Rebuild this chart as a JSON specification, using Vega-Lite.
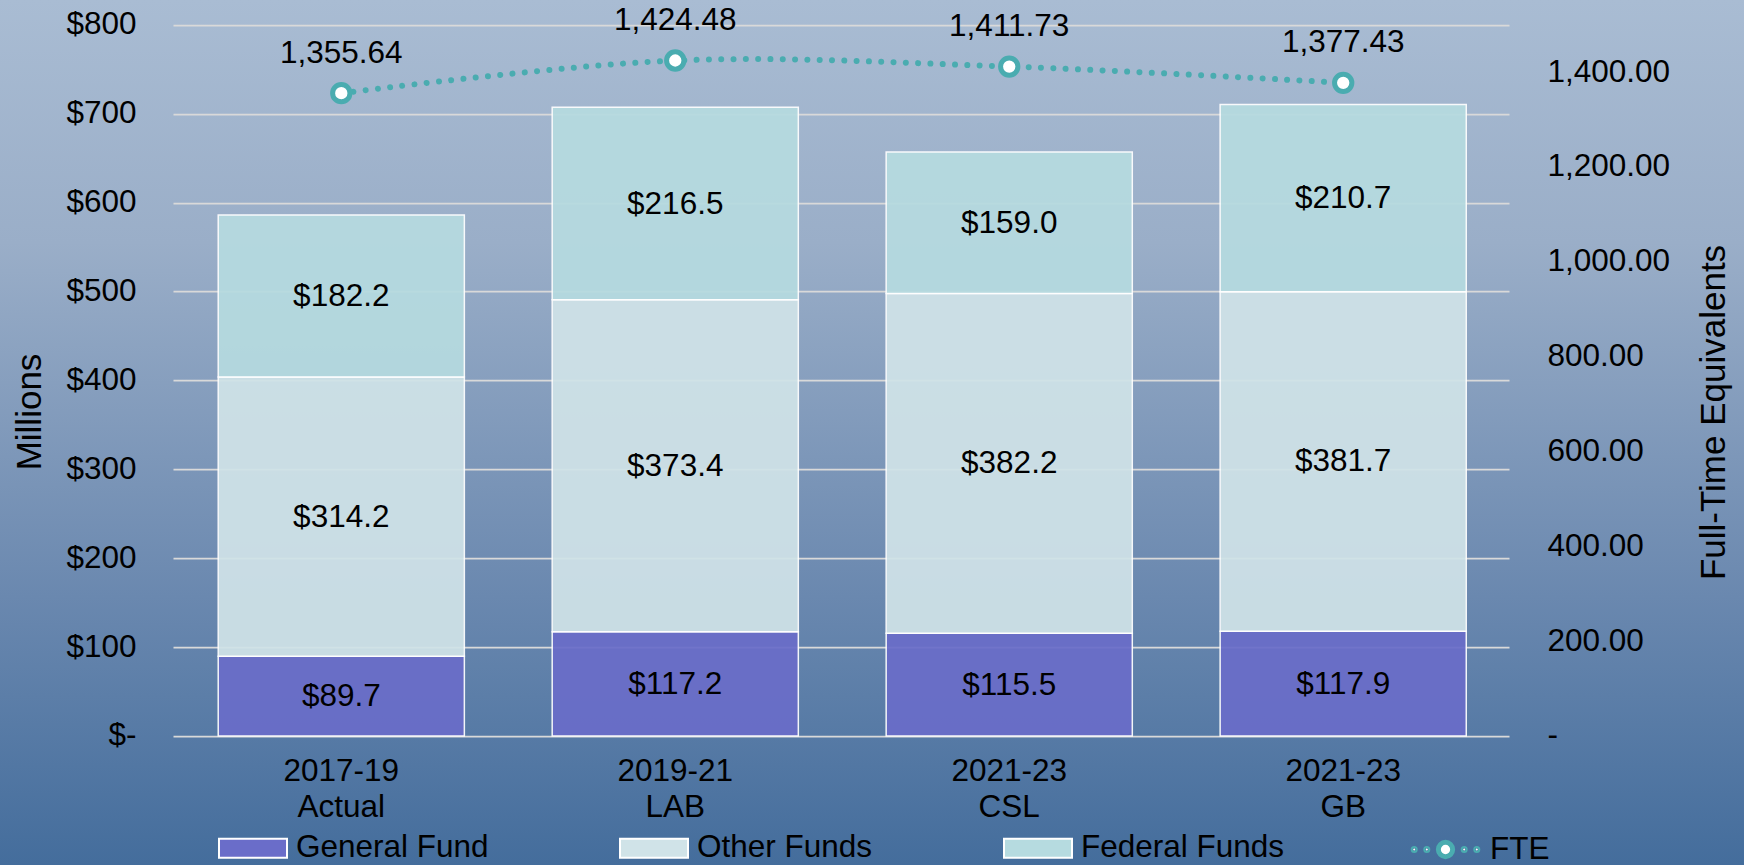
{
  "$schema": "https://vega.github.io/schema/vega-lite/v6.json",
  "width": 1744,
  "height": 865,
  "autosize": {"type": "none"},
  "padding": 0,
  "background": "#5d7fa9",
  "config": {
    "view": {
      "stroke": null,
      "fill": {"gradient": "linear", "x1": 0, "y1": 0, "x2": 0, "y2": 1,
        "stops": [
          {"offset": 0, "color": "#a9bcd3"},
          {"offset": 0.28, "color": "#9aaec8"},
          {"offset": 0.69, "color": "#6a88af"},
          {"offset": 1, "color": "#446d9c"}
        ]}
    },
    "font": "Liberation Sans",
    "axis": {
      "labelFont": "Liberation Sans",
      "titleFont": "Liberation Sans",
      "labelColor": "#000000",
      "titleColor": "#000000",
      "labelFontSize": 31.5,
      "titleFontSize": 35,
      "titleFontWeight": "normal"
    },
    "legend": {
      "orient": "none",
      "direction": "horizontal",
      "symbolSize": 4624,
      "labelFont": "Liberation Sans",
      "labelFontSize": 31.5,
      "labelColor": "#000000",
      "labelOffset": 8,
      "columnPadding": 127,
      "padding": 0,
      "labelLimit": 500,
      "symbolOpacity": 1
    }
  },
  "datasets": {
    "funds": [
      {"period": "2017-19 Actual", "fund": "General Fund", "amount": 89.7, "stack_order": 1},
      {"period": "2017-19 Actual", "fund": "Other Funds", "amount": 314.2, "stack_order": 2},
      {"period": "2017-19 Actual", "fund": "Federal Funds", "amount": 182.2, "stack_order": 3},
      {"period": "2019-21 LAB", "fund": "General Fund", "amount": 117.2, "stack_order": 1},
      {"period": "2019-21 LAB", "fund": "Other Funds", "amount": 373.4, "stack_order": 2},
      {"period": "2019-21 LAB", "fund": "Federal Funds", "amount": 216.5, "stack_order": 3},
      {"period": "2021-23 CSL", "fund": "General Fund", "amount": 115.5, "stack_order": 1},
      {"period": "2021-23 CSL", "fund": "Other Funds", "amount": 382.2, "stack_order": 2},
      {"period": "2021-23 CSL", "fund": "Federal Funds", "amount": 159.0, "stack_order": 3},
      {"period": "2021-23 GB", "fund": "General Fund", "amount": 117.9, "stack_order": 1},
      {"period": "2021-23 GB", "fund": "Other Funds", "amount": 381.7, "stack_order": 2},
      {"period": "2021-23 GB", "fund": "Federal Funds", "amount": 210.7, "stack_order": 3}
    ],
    "fte": [
      {"period": "2017-19 Actual", "fte": 1355.64},
      {"period": "2019-21 LAB", "fte": 1424.48},
      {"period": "2021-23 CSL", "fte": 1411.73},
      {"period": "2021-23 GB", "fte": 1377.43}
    ]
  },
  "layer": [
    {
      "data": {"name": "funds"},
      "transform": [
        {"stack": "amount", "groupby": ["period"], "sort": [{"field": "stack_order", "order": "ascending"}], "as": ["y0", "y1"]},
        {"calculate": "(datum.y0 + datum.y1) / 2", "as": "ymid"}
      ],
      "encoding": {
        "x": {
          "field": "period",
          "type": "nominal",
          "scale": {
            "domain": ["2017-19 Actual", "2019-21 LAB", "2021-23 CSL", "2021-23 GB"],
            "paddingInner": 0.263,
            "paddingOuter": 0.7425,
            "align": 0.44
          },
          "axis": {
            "orient": "bottom",
            "offset": -129,
            "title": null,
            "domain": false,
            "ticks": false,
            "grid": false,
            "labelAngle": 0,
            "labelExpr": "split(datum.label, ' ')",
            "labelLineHeight": 36,
            "labelPadding": 19,
            "labelBaseline": "top"
          }
        }
      },
      "layer": [
        {
          "mark": {"type": "bar", "stroke": "#ffffff", "strokeWidth": 1.5, "opacity": 0.93},
          "encoding": {
            "y": {
              "field": "y0",
              "type": "quantitative",
              "scale": {"domain": [-145.09, 827.78], "nice": false, "zero": false},
              "axis": {
                "orient": "left",
                "offset": -173,
                "values": [0, 100, 200, 300, 400, 500, 600, 700, 800],
                "labelExpr": "datum.value === 0 ? '$-' : '$' + datum.value",
                "domain": false,
                "grid": false,
                "ticks": true,
                "tickSize": -1336,
                "tickColor": "#d9d9d9",
                "tickWidth": 1.75,
                "labelPadding": 1373,
                "title": "Millions",
                "titleX": -132.3,
                "titleY": 411.5,
                "titleAngle": 270,
                "titleAlign": "center",
                "titleBaseline": "alphabetic"
              }
            },
            "y2": {"field": "y1"},
            "color": {
              "field": "fund",
              "type": "nominal",
              "scale": {
                "domain": ["General Fund", "Other Funds", "Federal Funds"],
                "range": ["#6a6dc9", "#d0e3e8", "#b6dbe0"]
              },
              "legend": {
                "title": null,
                "orient": "none",
                "legendX": 218,
                "legendY": 813,
                "direction": "horizontal",
                "symbolType": "M-1,-0.28H1V0.28H-1Z",
                "symbolSize": 4624,
                "symbolStrokeColor": "#ffffff",
                "symbolStrokeWidth": 2,
                "symbolOpacity": 1
              }
            },
            "order": {"field": "stack_order", "type": "quantitative"}
          }
        },
        {
          "mark": {"type": "text", "font": "Liberation Sans", "fontSize": 31.5, "color": "#000000", "baseline": "middle", "align": "center", "dy": 1},
          "encoding": {
            "y": {"field": "ymid", "type": "quantitative"},
            "text": {"field": "amount", "type": "quantitative", "format": "$.1f"}
          }
        }
      ]
    },
    {
      "data": {"name": "fte"},
      "encoding": {
        "x": {"field": "period", "type": "nominal"},
        "y": {
          "field": "fte",
          "type": "quantitative",
          "scale": {"domain": [-272.04, 1552.09], "nice": false, "zero": false},
          "axis": {
            "orient": "right",
            "offset": -235,
            "values": [0, 200, 400, 600, 800, 1000, 1200, 1400],
            "labelExpr": "datum.value === 0 ? '-' : format(datum.value, ',.2f')",
            "domain": false,
            "grid": false,
            "ticks": false,
            "labelPadding": 38,
            "title": "Full-Time Equivalents",
            "titleX": 215,
            "titleY": 412,
            "titleAngle": 270,
            "titleAlign": "center",
            "titleBaseline": "alphabetic"
          }
        }
      },
      "layer": [
        {
          "mark": {"type": "line", "color": "#4aacb0", "strokeWidth": 6, "strokeDash": [0.01, 12.3], "strokeCap": "round", "interpolate": "cardinal"}
        },
        {
          "mark": {"type": "point", "shape": "circle", "filled": true, "fill": "#ffffff", "strokeWidth": 5, "size": 300, "opacity": 1},
          "encoding": {
            "stroke": {
              "datum": "FTE",
              "type": "nominal",
              "scale": {"domain": ["FTE"], "range": ["#4aacb0"]},
              "legend": {
                "title": null,
                "orient": "none",
                "legendX": 1409,
                "legendY": 813,
                "direction": "horizontal",
                "symbolType": "M-0.95,0a0.03,0.03 0 1,0 0.06,0a0.03,0.03 0 1,0 -0.06,0Z M-0.58,0a0.03,0.03 0 1,0 0.06,0a0.03,0.03 0 1,0 -0.06,0Z M0.52,0a0.03,0.03 0 1,0 0.06,0a0.03,0.03 0 1,0 -0.06,0Z M0.89,0a0.03,0.03 0 1,0 0.06,0a0.03,0.03 0 1,0 -0.06,0Z M-0.21,0a0.21,0.21 0 1,0 0.42,0a0.21,0.21 0 1,0 -0.42,0Z",
                "symbolSize": 4624,
                "symbolFillColor": "#ffffff",
                "symbolStrokeWidth": 5,
                "symbolOpacity": 1
              }
            }
          }
        },
        {
          "mark": {"type": "text", "font": "Liberation Sans", "fontSize": 31.5, "color": "#000000", "baseline": "middle", "align": "center", "dy": -39.5},
          "encoding": {
            "text": {"field": "fte", "type": "quantitative", "format": ",.2f"}
          }
        }
      ]
    }
  ],
  "resolve": {"scale": {"y": "independent"}}
}
